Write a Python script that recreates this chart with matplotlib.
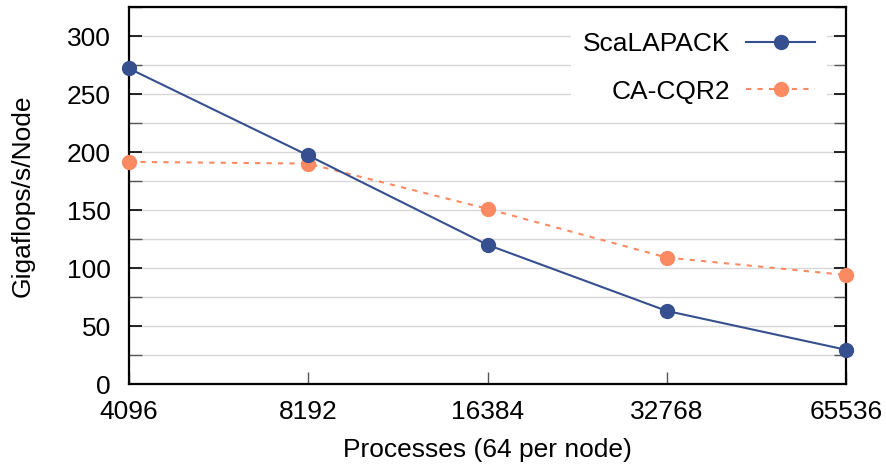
import matplotlib.pyplot as plt
from matplotlib.ticker import MultipleLocator, FixedLocator, NullLocator

plt.rcParams['font.family'] = ['Liberation Sans', 'DejaVu Sans']

procs = [4096, 8192, 16384, 32768, 65536]
scalapack = [272, 197, 120, 63, 29.5]
cacqr2 = [191.5, 190, 151, 109, 94]

blue = '#364f8e'
orange = '#fb8a62'

fig = plt.figure(figsize=(8.86, 4.66), dpi=100)
ax = fig.add_axes([129 / 886, 1 - 384 / 466, 717 / 886, 377 / 466])

ax.plot(procs, scalapack, color=blue, lw=1.5, marker='o', ms=10,
        label='ScaLAPACK', zorder=4, clip_on=False)
ax.plot(procs, cacqr2, color=orange, lw=1.5, ls=(0, (2.5, 3)), marker='o', ms=10,
        label='CA-CQR2', zorder=3, clip_on=False)

ax.set_xscale('log', base=2)
ax.set_xlim(4096, 65536)
ax.xaxis.set_major_locator(FixedLocator(procs))
ax.xaxis.set_minor_locator(NullLocator())
ax.set_xticklabels([str(p) for p in procs])
ax.set_ylim(0, 325)
ax.yaxis.set_major_locator(MultipleLocator(50))
ax.yaxis.set_minor_locator(MultipleLocator(25))

ax.grid(True, which='both', axis='y', color='#d8d8d8', lw=1.0, zorder=0)
ax.set_axisbelow(True)

ax.tick_params(axis='y', which='major', direction='in', length=9, width=1.2,
               left=True, right=True, labelsize=19, pad=13)
ax.tick_params(axis='y', which='minor', direction='in', length=9, width=1.0,
               left=True, right=True, color='#555555')
ax.tick_params(axis='x', which='major', direction='in', length=9, width=1.0,
               color='#555555', labelsize=19, pad=11.5)

for s in ax.spines.values():
    s.set_linewidth(1.6)

ax.set_xlabel('Processes (64 per node)', fontsize=19, labelpad=10)
ax.set_ylabel('Gigaflops/s/Node', fontsize=19, labelpad=23)

leg = ax.legend(loc='upper right', bbox_to_anchor=(1 - 6 / 717, 1),
                markerfirst=False, fontsize=19, frameon=True,
                fancybox=False, framealpha=1, edgecolor='none', facecolor='white',
                handlelength=2.6, handletextpad=0.6, labelspacing=0.89,
                borderaxespad=0.5, borderpad=0.45)
leg.set_zorder(2)

fig.savefig('out.png', dpi=100)
